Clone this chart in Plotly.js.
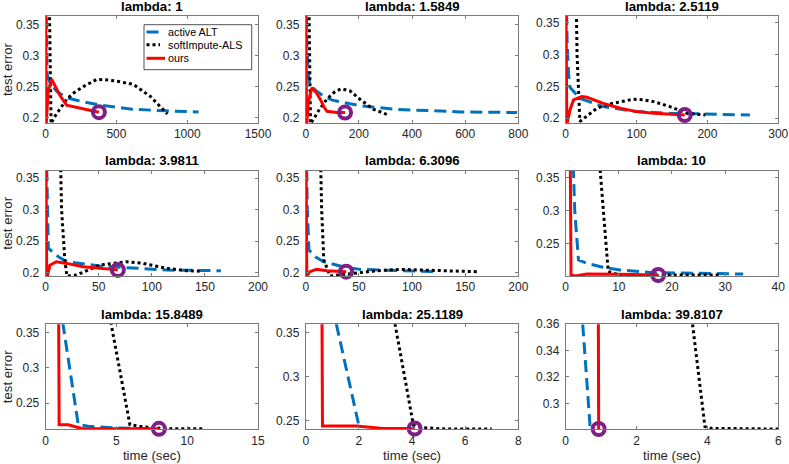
<!DOCTYPE html>
<html>
<head>
<meta charset="utf-8">
<script src="https://cdn.plot.ly/plotly-3.0.1.min.js"></script>
<style>html,body{margin:0;padding:0;background:#fff;}#chart{width:789px;height:464px;}</style>
</head>
<body>
<div id="chart"></div>
<script>
// ---- data ----
const lambdas = ['1', '1.5849', '2.5119', '3.9811', '6.3096', '10', '15.8489', '25.1189', '39.8107'];
const seriesNames = ['active ALT', 'softImpute-ALS', 'ours'];

// active ALT (blue dashed)
const altX1 = [0, 5, 10, 30, 80, 148, 250, 383, 611, 846, 1080];
const altY1 = [0.45, 0.32, 0.27, 0.256, 0.242, 0.232, 0.226, 0.22, 0.2134, 0.2107, 0.209];
const altX2 = [0, 4, 10, 16, 40, 66, 100, 204, 330, 455, 580, 700, 795];
const altY2 = [0.45, 0.32, 0.27, 0.252, 0.243, 0.235, 0.228, 0.219, 0.2134, 0.2107, 0.209, 0.2085, 0.208];
const altX3 = [0, 2, 4, 6, 20, 53, 100, 147, 194, 260];
const altY3 = [0.45, 0.32, 0.27, 0.2486, 0.2314, 0.2183, 0.2105, 0.2078, 0.2068, 0.2052];
const altX4 = [0, 1.5, 2.5, 12, 20, 51, 82, 114, 165];
const altY4 = [0.45, 0.3, 0.2387, 0.2254, 0.2175, 0.2106, 0.2069, 0.2042, 0.2032];
const altX5 = [0, 1.5, 3, 9, 16.6, 35, 51, 82, 123];
const altY5 = [0.45, 0.3, 0.236, 0.2254, 0.2175, 0.2095, 0.2053, 0.2032, 0.2016];
const altX6 = [1.1, 1.7, 2.4, 4, 7, 10.2, 16.5, 22.8, 33.4];
const altY6 = [0.45, 0.3, 0.2245, 0.2195, 0.2134, 0.2093, 0.2053, 0.2043, 0.2032];
const altX7 = [1.2, 2.3, 3.0, 5.0, 7.6];
const altY7 = [0.365, 0.2195, 0.217, 0.2146, 0.2135];
const altX8 = [1.15, 2.05];
const altY8 = [0.36, 0.238];
const altX9 = [0.48, 0.7];
const altY9 = [0.36, 0.278];

// softImpute-ALS (black dotted)
const sofX1 = [22, 30, 38, 60, 100, 148, 200, 266, 360, 420, 500, 620, 740, 800, 860];
const sofY1 = [0.45, 0.3, 0.19, 0.2, 0.214, 0.2295, 0.24, 0.25, 0.2616, 0.2612, 0.259, 0.2536, 0.234, 0.22, 0.2055];
const sofX2 = [10, 14, 18, 29, 50, 79, 110, 135, 167, 204, 254, 305];
const sofY2 = [0.45, 0.3, 0.19, 0.197, 0.212, 0.2295, 0.242, 0.2466, 0.243, 0.2295, 0.2134, 0.205];
const sofX3 = [14, 16, 20, 30, 44, 60, 77, 95, 110, 124, 147, 171, 197];
const sofY3 = [0.45, 0.3, 0.195, 0.204, 0.2157, 0.222, 0.2262, 0.2298, 0.229, 0.2262, 0.2183, 0.208, 0.2052];
const sofX4 = [13, 15, 18, 20, 29, 51, 76, 92, 114, 133, 145];
const sofY4 = [0.45, 0.3, 0.22, 0.1947, 0.1963, 0.2122, 0.2175, 0.2148, 0.2069, 0.2032, 0.2025];
const sofX5 = [13, 15, 17, 23, 45, 67, 89, 114, 161];
const sofY5 = [0.45, 0.3, 0.22, 0.1947, 0.199, 0.2032, 0.2053, 0.2042, 0.2016];
const sofX6 = [6.3, 8, 10.2, 13.4, 19.6, 29];
const sofY6 = [0.38, 0.2068, 0.2017, 0.1992, 0.2017, 0.2017];
const sofX7 = [4.6, 5.95, 6.65, 8.5, 11.1];
const sofY7 = [0.365, 0.2193, 0.217, 0.2134, 0.2134];
const sofX8 = [3.36, 4.05, 4.43, 5.3, 7.0];
const sofY8 = [0.36, 0.2455, 0.2424, 0.2408, 0.2408];
const sofX9 = [3.58, 3.93, 4.12, 6.0];
const sofY9 = [0.36, 0.2823, 0.281, 0.2805];

// ours (red solid); the circle marks the last point
const oursX1 = [0, 3, 10, 20, 42, 70, 100, 148, 266, 376];
const oursY1 = [0.45, 0.185, 0.215, 0.245, 0.262, 0.25, 0.236, 0.22, 0.2134, 0.2085];
const oursX2 = [0, 3, 10, 23, 40, 54, 70, 80, 117, 148];
const oursY2 = [0.45, 0.185, 0.225, 0.248, 0.24, 0.23, 0.216, 0.21, 0.208, 0.208];
const oursX3 = [0, 1.5, 6, 11, 22.6, 30, 53, 77, 100, 124, 168];
const oursY3 = [0.45, 0.19, 0.213, 0.2288, 0.234, 0.233, 0.2235, 0.2157, 0.2105, 0.208, 0.2052];
const oursX4 = [0, 1, 4, 10, 20, 35, 51, 68];
const oursY4 = [0.45, 0.19, 0.212, 0.2175, 0.2148, 0.2095, 0.2069, 0.2045];
const oursX5 = [0, 1, 4, 10, 20, 38];
const oursY5 = [0.45, 0.195, 0.2016, 0.2053, 0.2032, 0.2016];
const oursX6 = [0.8, 1.0, 1.8, 4, 10, 17.4];
const oursY6 = [0.45, 0.2017, 0.2002, 0.2032, 0.2027, 0.2017];
const oursX7 = [0.9, 0.95, 1.6, 2.6, 8.0];
const oursY7 = [0.45, 0.2193, 0.2193, 0.2135, 0.2135];
const oursX8 = [0.6, 0.63, 1.92, 2.8, 4.1];
const oursY8 = [0.45, 0.2443, 0.2443, 0.2417, 0.2415];
const oursX9 = [0.92, 0.93];
const oursY9 = [0.38, 0.2805];

// axis ticks
const xMax = [1500, 800, 300, 200, 200, 40, 15, 8, 6];
const xStep = [500, 200, 100, 50, 50, 10, 5, 2, 2];
const yTicksA = [0.2, 0.25, 0.3, 0.35];
const yTextA = ['0.2', '0.25', '0.3', '0.35'];
const yTicksB = [0.3, 0.32, 0.34, 0.36];
const yTextB = ['0.3', '0.32', '0.34', '0.36'];

// ---- layout helpers ----
const W = 789, H = 464;
const yLow = [0.191, 0.191, 0.1926, 0.1948, 0.1948, 0.2002, 0.2128, 0.2406, 0.2803];
const yHigh = [0.3645, 0.3645, 0.3605, 0.362, 0.362, 0.3607, 0.3619, 0.3595, 0.36];
const colDom = [[0.0579, 0.3270], [0.3875, 0.6569], [0.7170, 0.9864]];
const rowDom = [[0.7349, 0.9655], [0.4052, 0.6321], [0.0748, 0.3011]];
const titleY = [0.987, 0.655, 0.323];

const alt = [[altX1, altY1], [altX2, altY2], [altX3, altY3], [altX4, altY4], [altX5, altY5], [altX6, altY6], [altX7, altY7], [altX8, altY8], [altX9, altY9]];
const sof = [[sofX1, sofY1], [sofX2, sofY2], [sofX3, sofY3], [sofX4, sofY4], [sofX5, sofY5], [sofX6, sofY6], [sofX7, sofY7], [sofX8, sofY8], [sofX9, sofY9]];
const ours = [[oursX1, oursY1], [oursX2, oursY2], [oursX3, oursY3], [oursX4, oursY4], [oursX5, oursY5], [oursX6, oursY6], [oursX7, oursY7], [oursX8, oursY8], [oursX9, oursY9]];

const FONT = 'Liberation Sans, Arial, Helvetica, sans-serif';
const AXC = '#262626';
const BOXC = '#7a7a7a';
const BLUE = '#0072BD', BLACK = '#000000', RED = '#FF0000', PURPLE = '#7E1E86';
const BLUEDASH = '12px,6px';
const traces = [];
const layout = {
  width: W, height: H,
  margin: {l: 0, r: 0, t: 0, b: 0, pad: 0},
  paper_bgcolor: '#fff', plot_bgcolor: '#fff',
  font: {family: FONT, size: 12, color: AXC},
  showlegend: false,
  annotations: [],
  shapes: []
};

for (let i = 0; i < 9; i++) {
  const s = i === 0 ? '' : String(i + 1);
  const xa = 'x' + s, ya = 'y' + s;
  const col = i % 3, row = Math.floor(i / 3);
  traces.push({x: alt[i][0], y: alt[i][1], xaxis: xa, yaxis: ya, mode: 'lines', name: seriesNames[0],
    line: {color: BLUE, width: 3, dash: BLUEDASH}});
  traces.push({x: sof[i][0], y: sof[i][1], xaxis: xa, yaxis: ya, mode: 'lines', name: seriesNames[1],
    line: {color: BLACK, width: 3, dash: 'dot'}});
  traces.push({x: ours[i][0], y: ours[i][1], xaxis: xa, yaxis: ya, mode: 'lines', name: seriesNames[2],
    line: {color: RED, width: 3}});
  const ox = ours[i][0], oy = ours[i][1];
  traces.push({x: [ox[ox.length - 1]], y: [oy[oy.length - 1]], xaxis: xa, yaxis: ya, mode: 'markers',
    cliponaxis: false,
    marker: {symbol: 'circle-open', size: 12, color: PURPLE, line: {width: 4, color: PURPLE}}});

  const useB = i === 8;
  const common = {showline: true, linecolor: BOXC, linewidth: 1, mirror: 'ticks', ticks: 'inside',
    ticklen: 3, tickwidth: 1, tickcolor: BOXC, showgrid: false, zeroline: false,
    tickfont: {family: FONT, size: 12, color: AXC}};
  layout['xaxis' + s] = Object.assign({}, common, {
    domain: colDom[col], anchor: ya, range: [0, xMax[i]], tickmode: 'linear', tick0: 0, dtick: xStep[i],
    title: row === 2 ? {text: 'time (sec)', font: {family: FONT, size: 13.2, color: AXC}, standoff: 4} : {text: ''}
  });
  layout['yaxis' + s] = Object.assign({}, common, {
    domain: rowDom[row], anchor: xa, range: [yLow[i], yHigh[i]], tickmode: 'array',
    tickvals: useB ? yTicksB : yTicksA, ticktext: useB ? yTextB : yTextA, ticklabelstandoff: 3,
    title: col === 0 ? {text: 'test error', font: {family: FONT, size: 13.2, color: AXC}, standoff: 4} : {text: ''}
  });
  layout.annotations.push({
    text: '<b>lambda: ' + lambdas[i] + '</b>', xref: 'paper', yref: 'paper',
    x: (colDom[col][0] + colDom[col][1]) / 2, y: titleY[row], xanchor: 'center', yanchor: 'middle',
    showarrow: false, font: {family: FONT, size: 13.2, color: '#000'}
  });
}

// ---- legend (drawn as a compact MATLAB-style box) ----
const px = v => v / W, py = v => 1 - v / H;
const legBox = {x0: 144, x1: 251.7, y0: 24.7, y1: 69.7};
const legRows = [32, 44.7, 58.3];
const legStyles = [
  {color: BLUE, dash: BLUEDASH, x1: 160},
  {color: BLACK, dash: 'dot', x1: 160},
  {color: RED, dash: 'solid', x1: 165}
];
layout.shapes.push({type: 'rect', xref: 'paper', yref: 'paper',
  x0: px(legBox.x0), x1: px(legBox.x1), y0: py(legBox.y1), y1: py(legBox.y0),
  line: {color: AXC, width: 0.8}, fillcolor: '#fff', layer: 'above'});
for (let k = 0; k < 3; k++) {
  layout.shapes.push({type: 'line', xref: 'paper', yref: 'paper',
    x0: px(146.5), x1: px(legStyles[k].x1), y0: py(legRows[k]), y1: py(legRows[k]),
    line: {color: legStyles[k].color, width: 3, dash: legStyles[k].dash}, layer: 'above'});
  layout.annotations.push({text: seriesNames[k], xref: 'paper', yref: 'paper',
    x: px(166), y: py(legRows[k]), xanchor: 'left', yanchor: 'middle', showarrow: false,
    font: {family: FONT, size: 10.8, color: '#000'}});
}

Plotly.newPlot('chart', traces, layout, {staticPlot: true, displayModeBar: false});
</script>
</body>
</html>
